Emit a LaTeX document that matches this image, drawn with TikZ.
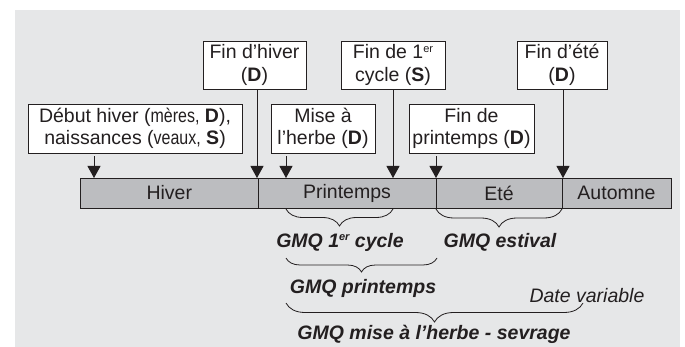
\documentclass[tikz,border=0pt]{standalone}
\usepackage{fontspec}
\setmainfont{Liberation Sans}
\usetikzlibrary{arrows.meta,decorations.pathreplacing}
\definecolor{bg}{HTML}{E6E7E8}
\definecolor{barfill}{HTML}{BCBDC0}
\definecolor{ink}{HTML}{231F20}
\newcommand{\condtext}[1]{\scalebox{0.82}[1]{#1}}
\newcommand{\supsc}[1]{\raisebox{0.62ex}{\fontsize{11}{11}\selectfont #1}}
\begin{document}
\begin{tikzpicture}[x=1pt,y=-1pt,
  font=\fontsize{19.5}{22.5}\selectfont,
  box/.style={draw=ink, fill=white, line width=0.9pt, align=center, inner sep=0pt, text=ink},
  season/.style={draw=ink, fill=barfill, line width=0.9pt, minimum height=30pt, inner sep=0pt, text=ink},
  arr/.style={draw=ink, line width=0.9pt, -{Triangle[width=13pt,length=12pt]}},
  brc/.style={draw=ink, line width=0.8pt, decorate, decoration={brace, amplitude=#1}},
  lbl/.style={font=\fontsize{19.5}{22.5}\selectfont\bfseries\itshape, text=ink, inner sep=0pt}]
\useasboundingbox (0,0) rectangle (685,347);
\fill[bg] (15,10) rectangle (680,347);
% seasons bar
\node[season, minimum width=177.5pt] (hiver) at (169.25,193) {Hiver};
\node[season, minimum width=178pt] (printemps) at (347,193) {Printemps};
\node[season, minimum width=126pt] (ete) at (499,193) {Eté};
\node[season, minimum width=109pt] (automne) at (616.5,193) {Automne};
% boxes
\node[box, minimum width=214pt, minimum height=49pt] (b1) at (135,128.5)
  {Début hiver (\condtext{mères,} \textbf{D}),\\naissances (\condtext{veaux,} \textbf{S})};
\node[box, minimum width=103pt, minimum height=48pt] (b2) at (254.5,65) {Fin d’hiver\\(\textbf{D})};
\node[box, minimum width=104pt, minimum height=49pt] (b3) at (323,128.5) {Mise à\\l’herbe (\textbf{D})};
\node[box, minimum width=104pt, minimum height=48pt] (b4) at (393,65) {Fin de 1\supsc{er}\\cycle (\textbf{S})};
\node[box, minimum width=125pt, minimum height=49pt] (b5) at (471.5,128.5) {Fin de\\printemps (\textbf{D})};
\node[box, minimum width=90pt, minimum height=48pt] (b6) at (562,65) {Fin d’été\\(\textbf{D})};
% arrow targets
\coordinate (t1) at (94,178);
\coordinate (t2) at (257,178);
\coordinate (t3) at (286,178);
\coordinate (t4) at (393,178);
\coordinate (t5) at (436,178);
\coordinate (t6) at (563,178);
\draw[arr] ([yshift=-3pt]b1.south -| t1) -- (t1);
\draw[arr] (b2.south -| t2) -- (t2);
\draw[arr] ([yshift=-3pt]b3.south -| t3) -- (t3);
\draw[arr] (b4.south -| t4) -- (t4);
\draw[arr] ([yshift=-3pt]b5.south -| t5) -- (t5);
\draw[arr] (b6.south -| t6) -- (t6);
% braces
\coordinate (c1a) at (286,209); \coordinate (c1b) at (393,209);
\coordinate (c2a) at (436,209); \coordinate (c2b) at (562,209);
\coordinate (c3a) at (286,258); \coordinate (c3b) at (437,258);
\coordinate (c4a) at (286,303); \coordinate (c4b) at (583,303);
\draw[brc=17pt] (c1b) -- (c1a);
\draw[brc=18pt] (c2b) -- (c2a);
\draw[brc=14pt] (c3b) -- (c3a);
\draw[brc=19pt] (c4b) -- (c4a);
\node[lbl] (l1) at (340,242) {GMQ 1\supsc{er} cycle};
\node[lbl] (l2) at (500,242) {GMQ estival};
\node[lbl] (l3) at (363,288) {GMQ printemps};
\node[lbl] (l4) at (434,334) {GMQ mise à l’herbe - sevrage};
\node[text=ink, font=\fontsize{19.5}{22.5}\selectfont\itshape, inner sep=0pt] (dv) at (587,296) {Date variable};
\end{tikzpicture}
\end{document}
